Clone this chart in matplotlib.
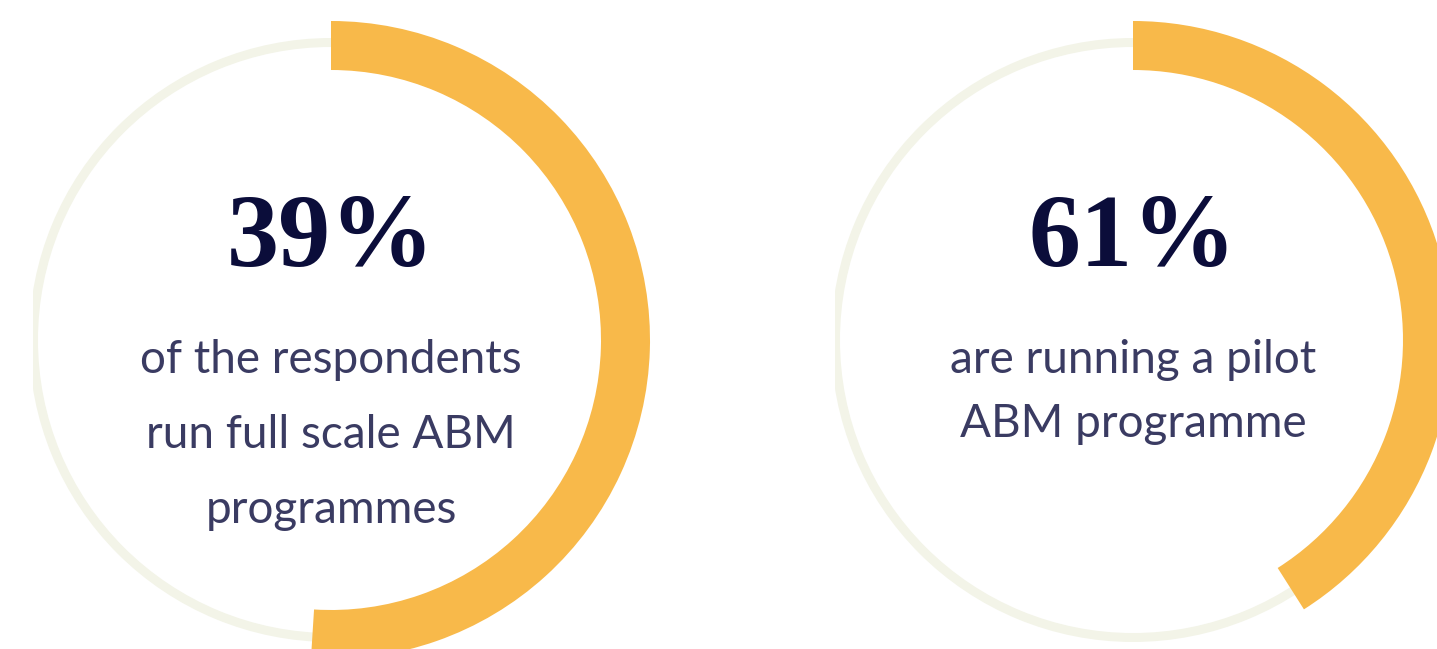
import matplotlib
matplotlib.use('Agg')
import matplotlib.pyplot as plt
from matplotlib.patches import Wedge, Rectangle

# values
pct_labels = ['39%', '61%']
arc_share = [0.51, 0.41]          # share of the ring covered by the orange arc
captions = [['of the respondents', 'run full scale ABM', 'programmes'],
            ['are running a pilot', 'ABM programme']]

W, H = 1437, 649
orange = '#F8B94A'
track = '#F3F4E8'
navy = '#0B0D3A'
textc = '#3A3B62'

fig = plt.figure(figsize=(W/100, H/100), dpi=100)
ax = fig.add_axes([0, 0, 1, 1])
ax.set_xlim(0, W)
ax.set_ylim(H, 0)
ax.set_aspect('equal')
ax.axis('off')

centres = [331, 1133]
cy = 340

for cx, lab, share, cap in zip(centres, pct_labels, arc_share, captions):
    # thin background ring, cut on the left like the original
    ring = Wedge((cx, cy), 302, 0, 360, width=9, facecolor=track, edgecolor='none')
    ax.add_patch(ring)
    clip = Rectangle((cx-298, -50), 2000, 800, transform=ax.transData)
    ring.set_clip_path(clip)

    # orange arc, clockwise from 12 o'clock (y axis is flipped)
    ax.add_patch(Wedge((cx, cy), 319, -90, -90 + share*360, width=49,
                       facecolor=orange, edgecolor='none'))

    ax.text(cx, 266, lab, ha='center', va='baseline', color=navy,
            fontsize=75, family='Liberation Serif', fontweight='bold')

    step = 75 if len(cap) == 3 else 64
    for i, line in enumerate(cap):
        ax.text(cx, 373 + i*step, line, ha='center', va='baseline', color=textc,
                fontsize=33, family='Lato')

fig.savefig('out.png', dpi=100, facecolor='white')
